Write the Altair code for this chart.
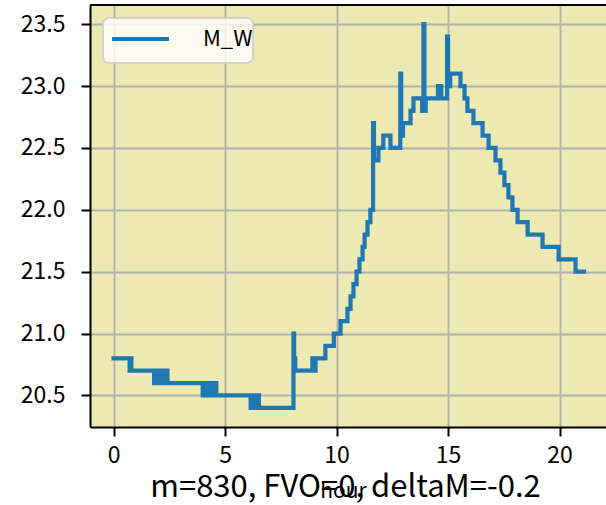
import altair as alt
import pandas as pd

# Change points of the M_W reading (value holds until the next hour listed)
hours = [
    0.00, 0.72, 0.76, 0.80,
    1.82, 1.90, 1.98, 2.06, 2.14, 2.22, 2.30, 2.36, 2.42,
    4.00, 4.06, 4.12, 4.18, 4.26, 4.32, 4.36, 4.45, 4.48, 4.58, 4.61,
    6.15, 6.22, 6.28, 6.36, 6.42, 6.48, 6.52,
    8.07, 8.10, 8.15,
    8.92, 8.96, 9.00, 9.03, 9.06,
    9.50, 9.88, 10.18, 10.49, 10.63, 10.76, 10.90, 11.03, 11.17, 11.26, 11.39, 11.52,
    11.64, 11.68, 11.88, 12.10, 12.42,
    12.86, 12.90, 12.98, 13.32, 13.45,
    13.84, 13.90, 13.94, 14.00,
    14.55, 14.70, 14.96, 15.00, 15.10,
    15.56, 15.74, 15.87, 16.14, 16.55, 16.82, 17.13, 17.35, 17.53, 17.71, 17.89,
    18.12, 18.57, 19.24, 19.96, 20.72, 21.10,
]
temps = [
    20.8, 20.7, 20.8, 20.7,
    20.6, 20.7, 20.6, 20.7, 20.6, 20.7, 20.6, 20.7, 20.6,
    20.5, 20.6, 20.5, 20.6, 20.5, 20.6, 20.5, 20.6, 20.5, 20.6, 20.5,
    20.4, 20.5, 20.4, 20.5, 20.4, 20.5, 20.4,
    21.0, 20.8, 20.7,
    20.8, 20.7, 20.8, 20.7, 20.8,
    20.9, 21.0, 21.1, 21.2, 21.3, 21.4, 21.5, 21.6, 21.7, 21.8, 21.9, 22.0,
    22.7, 22.4, 22.5, 22.6, 22.5,
    23.1, 22.6, 22.7, 22.8, 22.9,
    22.8, 23.5, 22.8, 22.9,
    23.0, 22.9, 23.4, 23.0, 23.1,
    23.0, 22.9, 22.8, 22.7, 22.6, 22.5, 22.4, 22.3, 22.2, 22.1, 22.0,
    21.9, 21.8, 21.7, 21.6, 21.5, 21.5,
]

x_ticks = [0, 5, 10, 15, 20]
y_ticks = [20.5, 21.0, 21.5, 22.0, 22.5, 23.0, 23.5]
series_name = "M_W"
caption = "m=830, FVO=0, deltaM=-0.2"

FONT = "Noto Sans CJK SC"
PLOT_W, PLOT_H = 516, 422
LINE_COLOR = "#1f77b4"
LINE_W = 4.2

df = pd.DataFrame({"hour": hours, "value": temps, "seq": list(range(len(hours)))})
one = pd.DataFrame({"k": [0]})

line = alt.Chart(df).mark_line(
    color=LINE_COLOR, strokeWidth=LINE_W, interpolate="step-after", strokeCap="square"
).encode(
    x=alt.X(
        "hour:Q",
        scale=alt.Scale(domain=[-1.055, 22.085], nice=False, zero=False),
        axis=alt.Axis(
            values=x_ticks, format="d", title="hour",
            titleX=253, titleY=70, titleBaseline="alphabetic", titleAlign="center",
            titleFontSize=21, labelPadding=8,
        ),
    ),
    y=alt.Y(
        "value:Q",
        scale=alt.Scale(domain=[20.245, 23.655], nice=False, zero=False),
        axis=alt.Axis(values=y_ticks, format=".1f", title=None, labelPadding=16),
    ),
    order="seq:Q",
)

# top frame edge
top_edge = alt.Chart(one).mark_rule(color="black", strokeWidth=2).encode(
    x=alt.value(0), x2=alt.value(PLOT_W), y=alt.value(0)
)

# legend box
legend_box = alt.Chart(one).mark_rect(
    fill="white", fillOpacity=0.8, stroke="#cccccc", strokeOpacity=0.8,
    strokeWidth=2, cornerRadius=6,
).encode(x=alt.value(13), x2=alt.value(163), y=alt.value(13), y2=alt.value(58))

legend_line = alt.Chart(one).mark_rule(color=LINE_COLOR, strokeWidth=LINE_W).encode(
    x=alt.value(22), x2=alt.value(79), y=alt.value(34)
)

legend_text = alt.Chart(one).mark_text(
    font=FONT, fontSize=22, align="left", baseline="middle", color="black"
).encode(x=alt.value(113), y=alt.value(34), text=alt.value(series_name))

caption_text = alt.Chart(one).mark_text(
    font=FONT, fontSize=31, align="center", baseline="alphabetic", color="black"
).encode(x=alt.value(255.5), y=alt.value(492), text=alt.value(caption))

chart = alt.layer(
    line, top_edge, legend_box, legend_line, legend_text, caption_text
).properties(
    width=PLOT_W,
    height=PLOT_H,
    autosize=alt.AutoSizeParams(type="none"),
    padding={"left": 90, "top": 5, "right": 0, "bottom": 78},
).configure_view(
    fill="#ECE9B2", stroke=None
).configure_axis(
    labelFont=FONT, labelFontSize=23, labelColor="black",
    titleFont=FONT, titleFontWeight="normal", titleColor="black",
    domainColor="black", domainWidth=2,
    tickColor="black", tickWidth=2, tickSize=9,
    grid=True, gridColor="#b0b0b0", gridWidth=1.8,
)

chart.save("out.html", embed_options={"renderer": "svg", "actions": False})
